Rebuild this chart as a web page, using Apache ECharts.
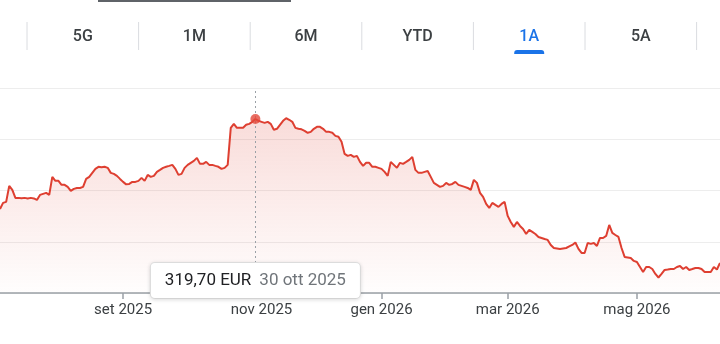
<!DOCTYPE html>
<html><head><meta charset="utf-8">
<script src="https://cdn.jsdelivr.net/npm/echarts@6.0.0/dist/echarts.min.js"></script>
<style>html,body{margin:0;padding:0;background:#fff;}#chart{width:720px;height:344px;}</style>
</head><body><div id="chart"></div>
<script>
// Trading days (category axis)
const dates = [
 '2025-07-07','2025-07-08','2025-07-09','2025-07-10','2025-07-11','2025-07-14','2025-07-15','2025-07-16','2025-07-17','2025-07-18','2025-07-21','2025-07-22','2025-07-23','2025-07-24','2025-07-25','2025-07-28','2025-07-29','2025-07-30','2025-07-31',
 '2025-08-01','2025-08-04','2025-08-05','2025-08-06','2025-08-07','2025-08-08','2025-08-11','2025-08-12','2025-08-13','2025-08-14','2025-08-15','2025-08-18','2025-08-19','2025-08-20','2025-08-21','2025-08-22','2025-08-25','2025-08-26','2025-08-27','2025-08-28','2025-08-29',
 '2025-09-01','2025-09-02','2025-09-03','2025-09-04','2025-09-05','2025-09-08','2025-09-09','2025-09-10','2025-09-11','2025-09-12','2025-09-15','2025-09-16','2025-09-17','2025-09-18','2025-09-19','2025-09-22','2025-09-23','2025-09-24','2025-09-25','2025-09-26','2025-09-29','2025-09-30',
 '2025-10-01','2025-10-02','2025-10-03','2025-10-06','2025-10-07','2025-10-08','2025-10-09','2025-10-10','2025-10-13','2025-10-14','2025-10-15','2025-10-16','2025-10-17','2025-10-20','2025-10-21','2025-10-22','2025-10-23','2025-10-24','2025-10-27','2025-10-28','2025-10-29','2025-10-30','2025-10-31',
 '2025-11-03','2025-11-04','2025-11-05','2025-11-06','2025-11-07','2025-11-10','2025-11-11','2025-11-12','2025-11-13','2025-11-14','2025-11-17','2025-11-18','2025-11-19','2025-11-20','2025-11-21','2025-11-24','2025-11-25','2025-11-26','2025-11-27','2025-11-28',
 '2025-12-01','2025-12-02','2025-12-03','2025-12-04','2025-12-05','2025-12-08','2025-12-09','2025-12-10','2025-12-11','2025-12-12','2025-12-15','2025-12-16','2025-12-17','2025-12-18','2025-12-19','2025-12-22','2025-12-23','2025-12-29','2025-12-30',
 '2026-01-02','2026-01-05','2026-01-06','2026-01-07','2026-01-08','2026-01-09','2026-01-12','2026-01-13','2026-01-14','2026-01-15','2026-01-16','2026-01-19','2026-01-20','2026-01-21','2026-01-22','2026-01-23','2026-01-26','2026-01-27','2026-01-28','2026-01-29','2026-01-30',
 '2026-02-02','2026-02-03','2026-02-04','2026-02-05','2026-02-06','2026-02-09','2026-02-10','2026-02-11','2026-02-12','2026-02-13','2026-02-16','2026-02-17','2026-02-18','2026-02-19','2026-02-20','2026-02-23','2026-02-24','2026-02-25','2026-02-26','2026-02-27',
 '2026-03-02','2026-03-03','2026-03-04','2026-03-05','2026-03-06','2026-03-09','2026-03-10','2026-03-11','2026-03-12','2026-03-13','2026-03-16','2026-03-17','2026-03-18','2026-03-19','2026-03-20','2026-03-23','2026-03-24','2026-03-25','2026-03-26','2026-03-27','2026-03-30','2026-03-31',
 '2026-04-01','2026-04-02','2026-04-07','2026-04-08','2026-04-09','2026-04-10','2026-04-13','2026-04-14','2026-04-15','2026-04-16','2026-04-17','2026-04-20','2026-04-21','2026-04-22','2026-04-23','2026-04-24','2026-04-27','2026-04-28','2026-04-29','2026-04-30',
 '2026-05-04','2026-05-05','2026-05-06','2026-05-07','2026-05-08','2026-05-11','2026-05-12','2026-05-13','2026-05-14','2026-05-15','2026-05-18','2026-05-19','2026-05-20','2026-05-21','2026-05-22','2026-05-25','2026-05-26','2026-05-27','2026-05-28','2026-05-29',
 '2026-06-01','2026-06-02','2026-06-03','2026-06-04','2026-06-05','2026-06-08','2026-06-09','2026-06-10'
];
// Closing prices (EUR)
const closes = [
 232.0,237.9,238.9,254.5,250.6,242.8,242.8,242.4,242.8,242.3,
 242.8,242.3,240.8,245.7,246.7,247.7,245.7,263.3,259.4,259.4,
 255.5,255.5,253.5,249.6,251.6,252.5,252.5,253.5,261.3,263.3,
 267.2,271.1,273.1,272.6,273.1,272.1,267.2,266.2,264.3,261.3,
 258.4,256.0,256.4,258.4,258.4,259.4,262.3,259.4,265.2,263.3,
 264.3,268.2,270.1,272.1,273.1,274.0,275.0,271.1,265.2,266.2,
 272.1,275.0,277.0,278.9,281.8,276.0,276.0,277.9,275.0,275.0,
 274.0,273.1,271.1,272.1,275.0,311.1,315.0,311.1,311.1,311.3,
 314.1,315.0,317.0,319.7,318.0,317.0,316.0,317.0,315.0,309.2,
 310.2,314.1,318.0,320.5,319.0,317.0,311.1,310.2,309.7,308.2,
 306.3,307.2,310.2,312.1,312.1,310.2,307.2,307.2,306.3,303.3,
 302.4,297.5,285.7,283.8,284.8,282.8,283.8,277.9,274.0,277.0,
 277.0,273.1,273.1,272.1,271.1,268.2,264.3,277.9,275.0,272.1,
 277.0,276.0,277.9,279.9,282.8,270.1,267.2,267.2,268.2,269.1,
 263.3,257.4,255.5,253.5,254.5,257.4,255.5,256.4,258.4,255.5,
 254.5,253.5,252.5,250.6,260.4,257.4,247.7,243.8,236.9,233.0,
 237.9,235.9,234.0,236.9,238.9,225.2,219.3,214.5,219.3,215.4,
 212.5,207.6,211.5,209.6,207.6,204.7,203.7,202.7,201.8,196.9,
 193.9,193.5,193.0,193.5,193.9,195.4,196.9,199.3,193.0,189.1,
 189.1,198.8,197.9,198.8,195.9,203.7,203.7,205.7,216.4,208.6,
 206.6,204.7,193.9,185.2,184.7,184.2,181.3,180.3,175.4,170.5,
 175.4,175.4,173.4,168.6,165.1,168.6,172.5,172.9,173.4,173.4,
 175.4,176.4,173.4,175.4,172.5,173.4,174.4,174.4,173.4,170.5,
 170.5,170.5,175.4,172.9,179.3
];
const tickMonths = ['2025-09','2025-11','2026-01','2026-03','2026-05'];
const tickLabels = ['set 2025','nov 2025','gen 2026','mar 2026','mag 2026'];
const rangeTabs = ['5G','1M','6M','YTD','1A','5A'];
const activeTab = '1A';
const highlightDate = '2025-10-30';
const currency = 'EUR';
const monthNamesIt = ['gen','feb','mar','apr','mag','giu','lug','ago','set','ott','nov','dic'];
const yMin = 150, yMax = 350, yStep = 50;

const tickIndex = new Map();
tickMonths.forEach((m, k) => {
  const i = dates.findIndex(d => d.startsWith(m));
  if (i >= 0) tickIndex.set(i, tickLabels[k]);
});
const hi = dates.indexOf(highlightDate);
function fmtDate(s) { const p = s.split('-'); return parseInt(p[2], 10) + ' ' + monthNamesIt[parseInt(p[1], 10) - 1] + ' ' + p[0]; }
function fmtPrice(v) { return v.toFixed(2).replace('.', ',') + ' ' + currency; }

const RED = '#de3f31';
const chart = echarts.init(document.getElementById('chart'), null, { renderer: 'canvas' });

chart.setOption({
  animation: false,
  grid: { left: 0, right: 0, top: 88, bottom: 51 },
  xAxis: {
    type: 'category', data: dates, boundaryGap: false,
    axisLine: { onZero: false, lineStyle: { color: '#9aa0a6', width: 1.5 } },
    axisTick: { show: true, length: 6, interval: (i) => tickIndex.has(i), lineStyle: { color: '#9aa0a6', width: 1.5 } },
    axisLabel: { interval: (i) => tickIndex.has(i), formatter: (v, i) => tickIndex.get(i) || '', color: '#3c4043', fontFamily: 'Roboto', fontSize: 15, margin: 10 },
    splitLine: { show: false }
  },
  yAxis: {
    type: 'value', min: yMin, max: yMax, interval: yStep,
    axisLabel: { show: false }, axisLine: { show: false }, axisTick: { show: false },
    splitLine: { lineStyle: { color: '#ededed', width: 1 } }
  },
  series: [
    {
      type: 'line', data: closes, symbol: 'none', z: 3,
      lineStyle: { color: RED, width: 2 },
      areaStyle: {
        color: new echarts.graphic.LinearGradient(0, 0, 0, 1, [
          { offset: 0, color: 'rgba(222,63,49,0.26)' },
          { offset: 1, color: 'rgba(222,63,49,0.01)' }
        ])
      },
      markLine: {
        silent: true, symbol: 'none', label: { show: false },
        lineStyle: { color: '#9aa0a6', type: [2, 3], width: 1 },
        data: [{ xAxis: dates[hi] }]
      }
    },
    {
      type: 'scatter', data: [[hi, closes[hi]]], symbolSize: 10, z: 5,
      itemStyle: { color: '#e4473a' }, silent: true
    }
  ]
});

const px = chart.convertToPixel({ xAxisIndex: 0 }, hi);
const tabW = 111.6, tabX0 = 27;
const g = [];
g.push({ type: 'rect', shape: { x: 98, y: 0, width: 193, height: 2 }, style: { fill: '#5f6368' } });
for (let k = 0; k <= rangeTabs.length; k++) {
  g.push({ type: 'line', shape: { x1: tabX0 + k * tabW, y1: 22, x2: tabX0 + k * tabW, y2: 50 }, style: { stroke: '#dadce0', lineWidth: 1 } });
}
rangeTabs.forEach((t, k) => {
  const cx = tabX0 + (k + 0.5) * tabW;
  const act = t === activeTab;
  g.push({ type: 'text', x: cx, y: 37, style: { text: t, align: 'center', verticalAlign: 'middle', font: '500 16px Roboto', fill: act ? '#1a73e8' : '#3c4043' } });
  if (act) g.push({ type: 'rect', shape: { x: cx - 15, y: 50, width: 30, height: 4, r: [3, 3, 0, 0] }, style: { fill: '#1a73e8' } });
});
g.push({
  type: 'text', x: px, y: 263, z: 100,
  style: {
    text: '{v|' + fmtPrice(closes[hi]) + '}{s| }{d|' + fmtDate(dates[hi]) + '}',
    align: 'center', verticalAlign: 'top',
    rich: {
      v: { fontFamily: 'Roboto', fontSize: 17, fill: '#202124', lineHeight: 19 },
      s: { fontSize: 17, width: 8 },
      d: { fontFamily: 'Roboto', fontSize: 17, fill: '#70757a', lineHeight: 19 }
    },
    backgroundColor: '#ffffff', borderColor: '#e3e3e3', borderWidth: 1, borderRadius: 4,
    padding: [8, 14, 8, 14],
    shadowBlur: 4, shadowColor: 'rgba(0,0,0,0.12)', shadowOffsetY: 1
  }
});
chart.setOption({ graphic: g });
</script>
</body></html>
